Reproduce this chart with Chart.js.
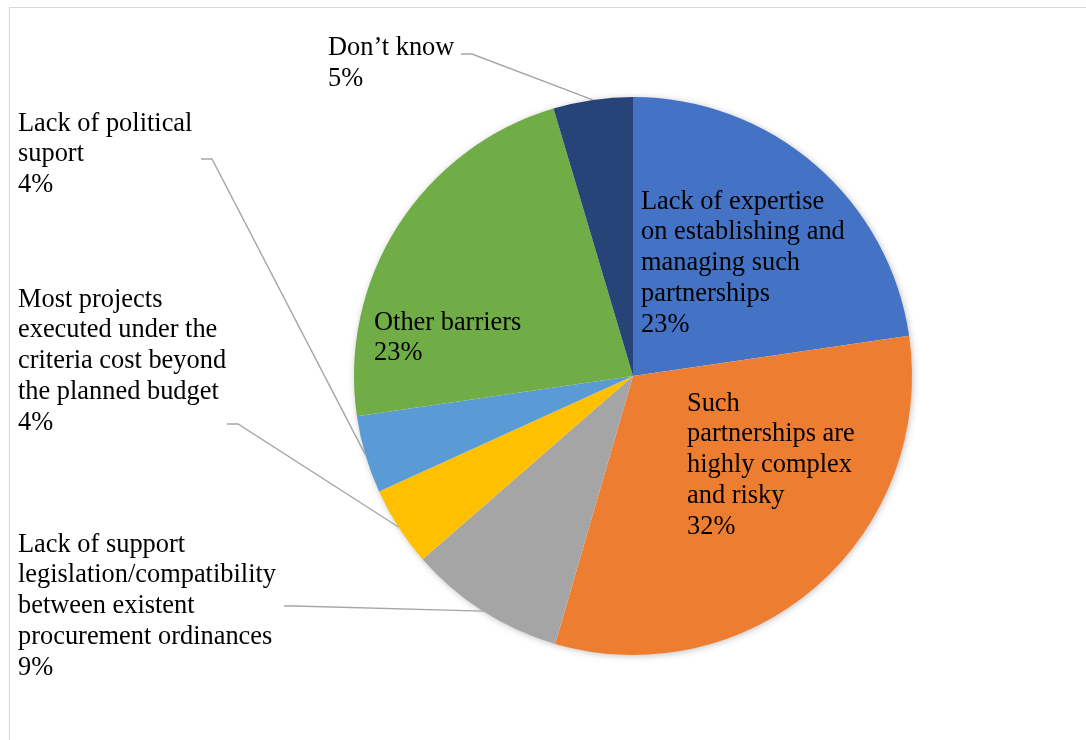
<!DOCTYPE html>
<html>
<head>
<meta charset="utf-8">
<script src="https://cdn.jsdelivr.net/npm/chart.js@4/dist/chart.umd.min.js"></script>
<style>
  html, body { margin: 0; padding: 0; background: #fff; overflow: hidden; }
  #frame { position: absolute; left: 9px; top: 7px; width: 1200px; height: 900px; border: 1.5px solid #d9d9d9; }
  #wrap { position: absolute; left: 0; top: 0; width: 1086px; height: 740px; }
</style>
</head>
<body>
<div id="frame"></div>
<div id="wrap"><canvas id="pie"></canvas></div>
<script>
// ─── Data ───
const categories = [
  ['Lack of expertise', 'on establishing and', 'managing such', 'partnerships'],
  ['Such', 'partnerships are', 'highly complex', 'and risky'],
  ['Lack of support', 'legislation/compatibility', 'between existent', 'procurement ordinances'],
  ['Most projects', 'executed under the', 'criteria cost beyond', 'the planned budget'],
  ['Lack of political', 'suport'],
  ['Other barriers'],
  ['Don\u2019t know'],
];
const shares = [22.7, 31.8, 9.1, 4.6, 4.5, 22.7, 4.6];
const pctLabels = ['23%', '32%', '9%', '4%', '4%', '23%', '5%'];
const colors = ['#4472C4', '#ED7D31', '#A5A5A5', '#FFC000', '#5B9BD5', '#70AD47', '#264478'];

// ─── Label layout (x, first baseline, optional leader start) ───
const FONT = '26.4px "Liberation Serif", "Times New Roman", serif';
const LINE_H = 30.75;
const labelLayout = [
  { x: 641, y: 208.5 },
  { x: 687, y: 410.5 },
  { x: 18, y: 551.5, lead: [284, 606] },
  { x: 18, y: 306.5, lead: [227, 424] },
  { x: 18, y: 130.5, lead: [201, 159] },
  { x: 374, y: 329.5 },
  { x: 328, y: 55, lead: [461, 54] },
];

// soft shadow behind the pie
const pieShadow = {
  id: 'pieShadow',
  beforeDatasetsDraw(chart) {
    const arc = chart.getDatasetMeta(0).data[0];
    if (!arc) return;
    const { ctx } = chart;
    ctx.save();
    ctx.shadowColor = 'rgba(0,0,0,0.28)';
    ctx.shadowBlur = 7;
    ctx.shadowOffsetX = 1;
    ctx.shadowOffsetY = 1;
    ctx.fillStyle = '#fff';
    ctx.beginPath();
    ctx.arc(arc.x, arc.y, arc.outerRadius - 0.5, 0, Math.PI * 2);
    ctx.fill();
    ctx.restore();
  },
};

// labels + leader lines
const pieLabels = {
  id: 'pieLabels',
  afterDatasetsDraw(chart) {
    const { ctx } = chart;
    const arcs = chart.getDatasetMeta(0).data;
    ctx.save();
    ctx.font = FONT;
    ctx.fillStyle = '#000';
    ctx.textBaseline = 'alphabetic';
    ctx.textAlign = 'left';
    arcs.forEach((arc, i) => {
      const lay = labelLayout[i];
      const lines = [...categories[i], pctLabels[i]];
      lines.forEach((t, k) => ctx.fillText(t, lay.x, lay.y + k * LINE_H));
      if (lay.lead) {
        const mid = (arc.startAngle + arc.endAngle) / 2;
        const ex = arc.x + Math.cos(mid) * arc.outerRadius;
        const ey = arc.y + Math.sin(mid) * arc.outerRadius;
        const [sx, sy] = lay.lead;
        ctx.strokeStyle = '#a6a6a6';
        ctx.lineWidth = 1.4;
        ctx.beginPath();
        ctx.moveTo(sx, sy);
        ctx.lineTo(sx + 11, sy);
        ctx.lineTo(ex, ey);
        ctx.stroke();
      }
    });
    ctx.restore();
  },
};

new Chart(document.getElementById('pie'), {
  type: 'pie',
  data: {
    labels: categories.map((c) => c.join(' ')),
    datasets: [{
      data: shares,
      backgroundColor: colors,
      borderWidth: 0,
    }],
  },
  options: {
    responsive: true,
    maintainAspectRatio: false,
    animation: false,
    layout: { padding: { left: 354, right: 174, top: 97, bottom: 85 } },
    plugins: { legend: { display: false }, tooltip: { enabled: false } },
  },
  plugins: [pieShadow, pieLabels],
});
</script>
</body>
</html>
